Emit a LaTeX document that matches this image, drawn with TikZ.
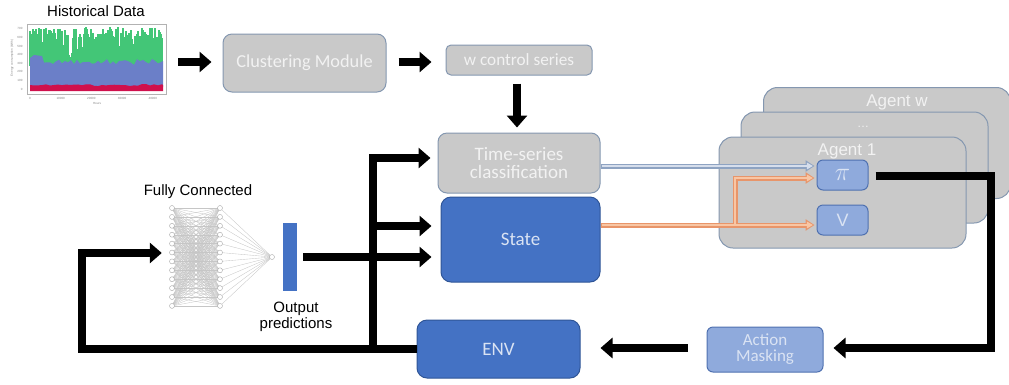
\documentclass[tikz,border=0pt]{standalone}
\usepackage{fontspec}
\setmainfont{Liberation Sans}
\newfontfamily\calib{Carlito}
\usetikzlibrary{arrows.meta,calc}
\definecolor{boxgray}{HTML}{C9C9C9}
\definecolor{boxedge}{HTML}{8497B0}
\definecolor{boxtext}{HTML}{F2F2F2}
\definecolor{darkblue}{HTML}{4472C4}
\definecolor{darkedge}{HTML}{2F5597}
\definecolor{lightblue}{HTML}{8FAADC}
\definecolor{lightedge}{HTML}{4F71B0}
\definecolor{bluetext}{HTML}{DAE3F3}
\definecolor{chgreen}{HTML}{43C677}
\definecolor{chblue}{HTML}{6B7FC8}
\definecolor{chred}{HTML}{D0104C}
\definecolor{tsouter}{HTML}{8EA3C2}
\definecolor{tsinner}{HTML}{D6DEEC}
\definecolor{orouter}{HTML}{E8956A}
\definecolor{orinner}{HTML}{F8C6A4}
\begin{document}
\begin{tikzpicture}[x=1pt,y=-1pt,
  graybox/.style={draw=boxedge, fill=boxgray, rounded corners=9, line width=1,
    text=boxtext, font=\calib\fontsize{19}{21}\selectfont, align=center, inner sep=0},
  bluebox/.style={draw=darkedge, fill=darkblue, rounded corners=10, line width=1,
    text=bluetext, font=\calib\fontsize{19}{21}\selectfont, align=center, inner sep=0},
  lbox/.style={draw=lightedge, fill=lightblue, rounded corners=6, line width=1,
    text=bluetext, font=\calib\fontsize{17}{19}\selectfont, align=center, inner sep=0},
  agentbox/.style={draw=boxedge, fill=boxgray, rounded corners=14, line width=1,
    minimum width=247, minimum height=111, inner sep=0},
  agentlabel/.style={text=boxtext, font=\fontsize{17}{19}\selectfont},
  bigarrow/.style={line width=8, -{Triangle[length=12pt,width=20pt]}},
  bigline/.style={line width=8},
  lbl/.style={font=\fontsize{15}{17}\selectfont, align=center},
  nnedge/.style={draw=gray!45, line width=0.35},
  nnnode/.style={circle, draw=gray!70, fill=white, line width=0.4, inner sep=0, minimum size=5},
  tiny/.style={font=\fontsize{3}{3.5}\selectfont, text=gray}
]
\useasboundingbox (0,0) rectangle (1009,384);

% ---------------- historical data chart ----------------
\node[lbl] (histlbl) at (96,11) {Historical Data};
\node[draw=gray!60, line width=0.5, minimum width=139, minimum height=70, inner sep=0] (chart) at (96.5,59.5) {};
\pgfmathsetseed{11}
\foreach \i in {0,...,132}{
  \pgfmathsetmacro\tp{rnd<0.25 ? 38+22*rnd : 27+12*rnd}
  \draw[chgreen, line width=1.05] ({30+\i},66) -- ({30+\i},\tp);
}
\fill[chblue] (30,87) -- (30,58) -- (34,55) -- (42,56)
  \foreach \i in {14,17,...,131}{ -- ({30+\i},{59+6*rnd}) } -- (163,61) -- (163,87) -- cycle;
\fill[chred] (30,91) -- (30,85)
  \foreach \i in {4,8,...,132}{ -- ({30+\i},{84+2.2*rnd}) } -- (163,85) -- (163,91) -- cycle;
\foreach \k/\t in {0/0,1/10000,2/20000,3/30000,4/40000}{
  \node[tiny] at ({30+30.7*\k},98) {\t};
}
\node[tiny] at (97,103) {Hours};
\foreach \k/\t in {0/0,1/100,2/200,3/300,4/400,5/500,6/600,7/700}{
  \node[tiny, anchor=east] at (26,{89-8.6*\k}) {\t};
}
\node[tiny, rotate=90] at (12,58) {Energy consumption (kWh)};

% ---------------- top row ----------------
\node[graybox, minimum width=163, minimum height=58, font=\calib\fontsize{18.3}{20}\selectfont] (clust) at (304.5,63) {Clustering Module};
\node[graybox, rounded corners=5, minimum width=146, minimum height=30, font=\calib\fontsize{17.2}{19}\selectfont] (wcs) at (519,60) {w control series};
\node[graybox, minimum width=162, minimum height=60] (ts) at (519,163) {Time-series\\[-3pt]classification};
\node[bluebox, minimum width=159, minimum height=85] (state) at (520.5,239.5) {State};

% ---------------- agents ----------------
\node[agentbox] (agentw) at (887,143) {};
\node[agentbox] (agentm) at (864.5,167.5) {};
\node[agentbox] (agent1) at (842.5,192.5) {};
\node[agentlabel] (agentwlbl) at (897,102) {Agent w};
\node[agentlabel, font=\fontsize{12}{14}\selectfont] (dots) at (863,127) {\dots};
\node[agentlabel] (agent1lbl) at (847,151) {Agent 1};
\node[lbox, minimum width=51, minimum height=30] (pi) at (842.5,175) {\scalebox{1.5}{$\pi$}};
\node[lbox, minimum width=51, minimum height=30, font=\fontsize{18}{20}\selectfont] (v) at (842.5,220) {V};

% ---------------- lower row ----------------
\node[lbox, minimum width=116, minimum height=45] (am) at (765,349.5) {Action\\[-3pt]Masking};
\node[bluebox, minimum width=163, minimum height=58] (env) at (498.5,349) {ENV};

% ---------------- fully connected network ----------------
\node[lbl] (fclbl) at (198,192) {Fully Connected};
\node[minimum width=106, minimum height=104, inner sep=0] (fc) at (222,257) {};
\foreach \i in {0,...,11}{
  \foreach \j in {0,...,11}{
    \draw[nnedge] (172,{208+8.9*\i}) -- (220,{208+8.9*\j});
  }
  \draw[nnedge] (220,{208+8.9*\i}) -- (272,257);
}
\foreach \i in {0,...,11}{
  \node[nnnode] at (172,{208+8.9*\i}) {};
  \node[nnnode] at (220,{208+8.9*\i}) {};
}
\node[nnnode] (outnode) at (272,257) {};
\node[fill=darkblue, minimum width=14, minimum height=68, inner sep=0] (bar) at (290,257) {};
\node[lbl] (outlbl) at (296,317) {Output\\[-1pt]predictions};

% ---------------- junction coordinates ----------------
\coordinate (c1) at (991,176);
\coordinate (c2) at (991,348);
\coordinate (e1) at (82,349);
\coordinate (e2) at (82,253);
\coordinate (j1) at (373,349);
\coordinate (j2) at (373,158);
\coordinate (j3) at (373,226);
\coordinate (ob) at (735,225);
\coordinate (ot) at (735,178);

% ---------------- black connectors ----------------
\draw[bigarrow] ($(chart.east)+(12,2.5)$) -- ($(clust.west)+(-11,-1)$);
\draw[bigarrow] ($(clust.east)+(12,-1)$) -- ($(wcs.west)+(-14,2)$);
\draw[bigarrow] ($(wcs.south)+(-2,8)$) -- ($(ts.north)+(-2,-5)$);
\draw[bigline, -{Triangle[length=12pt,width=20pt]}] ($(pi.east)+(7,1)$) -- (c1) -- (c2) -- ($(am.east)+(10,-1.5)$);
\draw[bigarrow] ($(am.west)+(-19,-1.5)$) -- ($(env.east)+(20,-1)$);
\draw[bigline, -{Triangle[length=12pt,width=20pt]}] (env.west) -- (e1) -- (e2) -- ($(fc.west)+(-7,-4)$);
\draw[bigline, -{Triangle[length=12pt,width=20pt]}] (j1) -- (j2) -- ($(ts.west)+(-7,-5)$);
\draw[bigarrow] (j3) -- ($(state.west)+(-9,-13.5)$);
\draw[bigarrow] ($(bar.east)+(6,0)$) -- ($(state.west)+(-9,17.5)$);

% ---------------- thin double arrows ----------------
\draw[tsouter, line width=5, -{Triangle[length=9pt,width=11pt]}] ($(ts.east)+(0,3)$) -- ($(pi.west)+(-2,-9)$);
\draw[tsinner, line width=2.4, shorten >=1.6, -{Triangle[length=6pt,width=6.5pt]}] ($(ts.east)+(1,3)$) -- ($(pi.west)+(-2,-9)$);
\draw[orouter, line width=5, -{Triangle[length=9pt,width=11pt]}] ($(state.east)+(0,-14.5)$) -- ($(v.west)+(-2,5)$);
\draw[orouter, line width=5, -{Triangle[length=9pt,width=11pt]}] (ob) -- (ot) -- ($(pi.west)+(-2,3)$);
\draw[orinner, line width=2.4, shorten >=1.6, -{Triangle[length=6pt,width=6.5pt]}] ($(state.east)+(1,-14.5)$) -- ($(v.west)+(-2,5)$);
\draw[orinner, line width=2.4, shorten >=1.6, -{Triangle[length=6pt,width=6.5pt]}] ($(ob)+(0,1)$) -- (ot) -- ($(pi.west)+(-2,3)$);
\end{tikzpicture}
\end{document}
